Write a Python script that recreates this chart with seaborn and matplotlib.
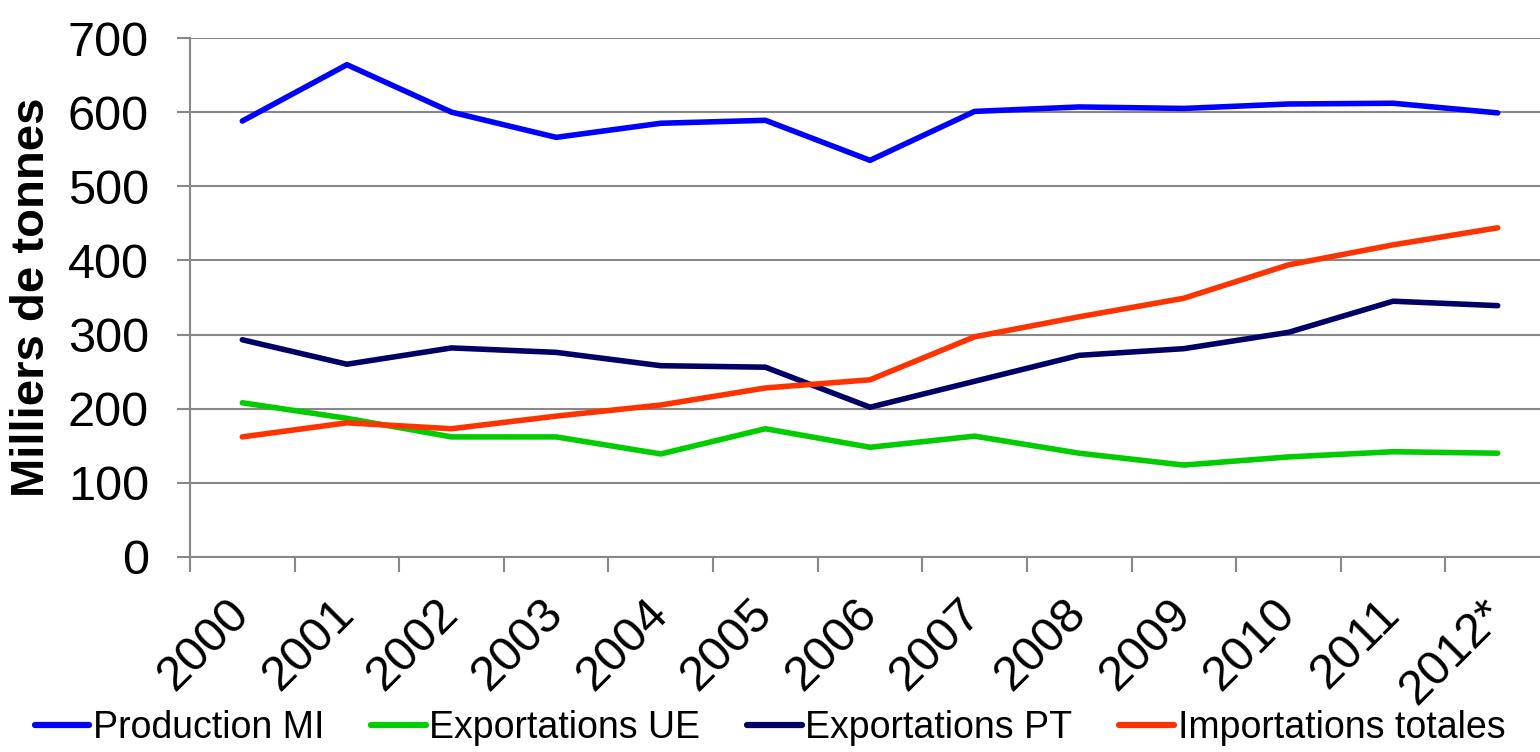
import matplotlib
matplotlib.use("Agg")
import matplotlib.pyplot as plt
import seaborn as sns
import pandas as pd
import numpy as np

years = ["2000", "2001", "2002", "2003", "2004", "2005", "2006",
         "2007", "2008", "2009", "2010", "2011", "2012*"]
production_mi = [588, 664, 600, 566, 585, 589, 535, 601, 607, 605, 611, 612, 599]
exportations_ue = [208, 187, 162, 162, 139, 173, 148, 163, 140, 124, 135, 142, 140]
exportations_pt = [293, 260, 282, 276, 258, 256, 202, 237, 272, 281, 303, 345, 339]
importations_totales = [162, 181, 173, 190, 205, 228, 239, 297, 324, 349, 394, 421, 444]

series_names = ["Production MI", "Exportations UE", "Exportations PT", "Importations totales"]
series_vals = [production_mi, exportations_ue, exportations_pt, importations_totales]
palette = {"Production MI": "#0000FF", "Exportations UE": "#00CC00",
           "Exportations PT": "#000066", "Importations totales": "#FF3300"}

rows = []
for name, vals in zip(series_names, series_vals):
    for i, v in enumerate(vals):
        rows.append({"idx": i, "value": v, "serie": name})
df = pd.DataFrame(rows)

sns.set_style("white")
plt.rcParams["font.family"] = ["Liberation Sans", "DejaVu Sans"]
plt.rcParams["text.color"] = "black"
plt.rcParams["xtick.color"] = "black"
plt.rcParams["ytick.color"] = "black"
plt.rcParams["axes.labelcolor"] = "black"

fig = plt.figure(figsize=(15.4, 7.52), dpi=100)
ax = fig.add_axes([190/1540, 1-557/752, 1360/1540, (557-38)/752])

sns.lineplot(data=df, x="idx", y="value", hue="serie", hue_order=series_names,
             palette=palette, linewidth=4, ax=ax, legend=True)

ax.set_xlim(-0.5, 12.5)
ax.set_ylim(0, 700)
ax.set_yticks(np.arange(0, 701, 100))
ax.yaxis.grid(True, color="#888888", linewidth=1.5)
ax.set_axisbelow(True)
for s in ["top", "right"]:
    ax.spines[s].set_visible(False)
for s in ["left", "bottom"]:
    ax.spines[s].set_color("#888888")
    ax.spines[s].set_linewidth(1.5)

ax.set_xticks(range(len(years)))
ax.set_xticklabels(years, rotation=45, ha="right", va="center", rotation_mode="anchor",
                   fontsize=35, color="black")
ax.set_xticks(np.arange(-0.5, 13, 1), minor=True)
ax.tick_params(axis="x", which="major", length=0, pad=36)
ax.tick_params(axis="x", which="minor", length=11, width=1.5, color="#888888", direction="out", bottom=True)
ax.tick_params(axis="y", which="major", length=9.5, width=1.5, color="#888888", direction="out",
               left=True, labelsize=35, labelcolor="black", pad=20)

ax.set_xlabel("")
ax.set_ylabel("Milliers de tonnes", fontsize=34, fontweight="bold", labelpad=10, color="black")

handles, labels = ax.get_legend_handles_labels()
ax.legend_.remove()
leg = fig.legend(handles, labels, loc="center", bbox_to_anchor=(0.5, 1-728/752), ncol=4,
                 frameon=False, prop={"family": ["Liberation Sans"], "size": 27},
                 handlelength=1.45, handletextpad=0.1, columnspacing=1.25, borderaxespad=0)
for t in leg.get_texts():
    t.set_color("black")
for h in leg.legend_handles:
    h.set_linewidth(4.5)

fig.savefig("out.png", dpi=100)
